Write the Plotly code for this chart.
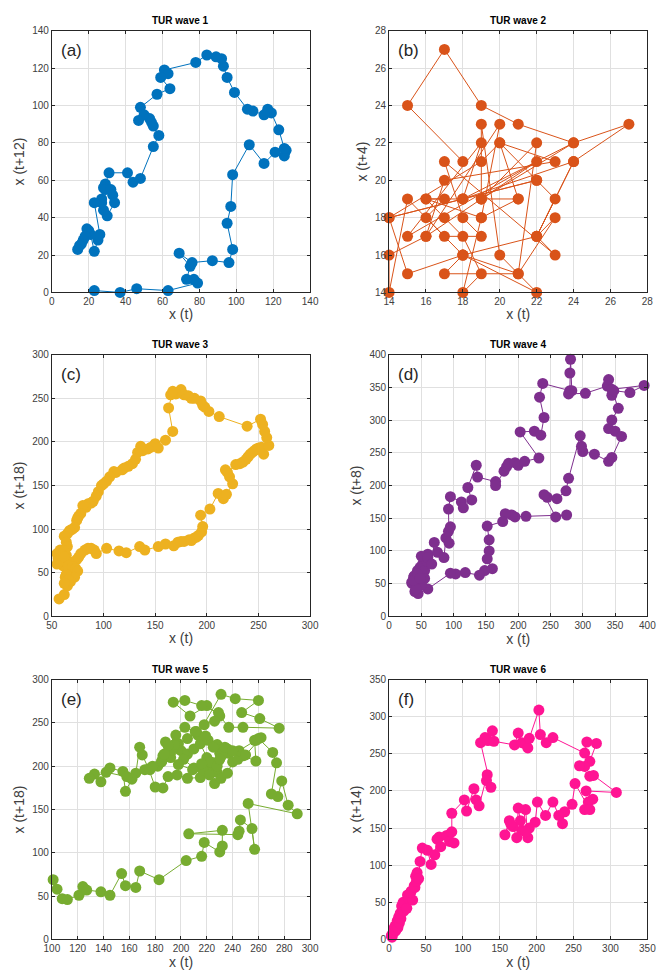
import plotly.graph_objects as go

# ---- wave 1 : x(t) vs x(t+12)
w1_x = [23, 37, 46, 63, 79, 77, 73, 75, 69, 76, 87, 96, 98, 95, 97, 98, 107, 115, 121, 126, 127, 126,
        123, 119, 117, 115, 109, 106, 99, 95, 93, 92, 89, 84, 78, 61, 63, 59, 64, 57, 48, 50, 47, 53,
        54, 55, 58, 55, 48, 44, 41, 31, 29, 28, 29, 32, 33, 34, 30, 28, 27, 27, 23, 26, 25, 23, 21,
        20, 19, 18, 17, 16, 15, 14]
w1_y = [1, 0, 2, 1, 5, 7, 7, 14, 21, 16, 17, 16, 23, 37, 46, 63, 79, 69, 75, 73, 76, 77,
        87, 96, 98, 95, 97, 98, 107, 115, 121, 125, 126, 127, 123, 119, 117, 115, 109, 106, 99, 95, 92, 93,
        91, 89, 84, 78, 61, 59, 64, 64, 58, 56, 55, 55, 52, 48, 41, 44, 48, 50, 48, 31, 28, 22, 31,
        33, 34, 30, 28, 26, 25, 23]

# ---- wave 2 : x(t) vs x(t+4)
w2_x = [18, 15, 17, 19, 21, 24, 27, 24, 22, 23, 21, 18, 15, 14, 22, 20, 23, 17, 16, 19, 22, 15,
        19, 18, 24, 19, 21, 19, 16, 17, 18, 19, 18, 19, 20, 16, 14, 14, 15, 17, 19, 18, 17, 23,
        22, 18, 22, 20, 19, 19, 22, 21, 17, 18, 16, 17, 16, 18, 22, 23, 22, 24, 18, 14, 19, 20, 21]
w2_y = [21, 24, 27, 24, 23, 22, 23, 21, 17, 18, 15, 16, 15, 18, 20, 22, 21, 20, 17, 19, 21, 17,
        22, 19, 22, 19, 19, 18, 19, 18, 17, 15, 14, 18, 23, 17, 16, 14, 19, 17, 17, 18, 21, 16,
        17, 16, 14, 16, 23, 19, 22, 15, 15, 16, 18, 19, 19, 19, 20, 19, 17, 21, 19, 18, 21, 22, 19]

# ---- wave 3 : x(t) vs x(t+18)
w3_x = [57, 62, 65, 63, 66, 64, 61, 58, 56, 55, 58, 60, 64, 68, 72, 70, 74, 76, 78, 82, 85, 88,
        91, 93, 103, 115, 122, 135, 140, 153, 160, 168, 172, 175, 178, 183, 185, 188, 190, 192, 195,
        196, 194, 203, 211, 216, 219, 225, 222, 218, 220, 228, 232, 235, 238, 240, 242, 244, 246, 248,
        250, 253, 255, 260, 258, 256, 254, 252, 239, 212, 202, 198, 196, 194, 188, 185, 182, 178, 175,
        172, 170, 165, 167, 163, 167, 160, 150, 153, 146, 143, 138, 136, 133, 131, 128, 124, 120, 118,
        112, 110, 106, 103, 100, 98, 95, 93, 90, 88, 85, 83, 80, 78, 76, 75, 74, 72, 70, 68, 67, 65,
        62, 64, 65, 62, 60, 57, 55, 58, 62, 66, 70, 73, 75, 72, 68, 64, 66, 62, 60]
w3_y = [20, 25, 35, 45, 52, 48, 58, 63, 67, 72, 76, 72, 70, 60, 55, 62, 65, 68, 72, 76, 78, 78,
        76, 72, 78, 75, 73, 80, 76, 80, 83, 81, 85, 86, 86, 88, 87, 90, 91, 93, 97,
        103, 116, 123, 141, 135, 140, 152, 160, 168, 165, 174, 175, 177, 180, 183, 186, 188, 190, 192,
        193, 194, 186, 196, 205, 212, 220, 226, 218, 229, 235, 240, 242, 247, 250, 250, 253, 254, 260,
        257, 255, 254, 258, 239, 212, 202, 198, 193, 194, 192, 190, 195, 188, 180, 175, 172, 170, 168,
        165, 166, 160, 155, 152, 150, 143, 138, 132, 130, 129, 125, 127, 118, 115, 113, 110, 102, 100,
        99, 98, 95, 92, 85, 80, 75, 70, 64, 60, 65, 68, 58, 57, 55, 52, 45, 40, 48, 42, 38]

# ---- wave 4 : x(t) vs x(t+8)
w4_x = [45, 40, 36, 38, 42, 47, 50, 44, 39, 35, 48, 52, 55, 60, 58, 50, 60, 66, 70, 75, 85, 88,
        92, 95, 93, 92, 95, 112, 115, 128, 122, 135, 137, 165, 165, 178, 182, 185, 195, 200, 210,
        232, 203, 225, 235, 240, 233, 238, 280, 280, 281, 283, 278, 304, 338, 340, 345, 348, 373,
        395, 345, 355, 345, 340, 350, 360, 345, 340, 318, 300, 298, 296, 278, 274, 260, 245, 240,
        258, 275, 212, 195, 190, 180, 176, 152, 155, 155, 152, 160, 148, 140, 118, 103, 95, 60, 55,
        50, 45, 42, 38, 44, 48]
w4_y = [45, 38, 50, 60, 55, 48, 65, 70, 62, 52, 75, 80, 70, 95, 85, 92, 90, 80, 113, 98, 90, 120,
        130, 137, 112, 164, 183, 175, 166, 178, 197, 231, 213, 206, 200, 222, 229, 234, 235, 231, 237,
        242, 282, 283, 277, 304, 335, 356, 345, 372, 393, 345, 340, 341, 352, 362, 338, 345, 342,
        353, 347, 318, 300, 287, 283, 275, 243, 237, 248, 252, 260, 276, 211, 192, 180, 182, 186,
        152, 155, 153, 152, 155, 157, 145, 138, 117, 100, 88, 73, 70, 63, 67, 65, 66, 42, 58,
        48, 35, 42, 55, 65, 58]

# ---- wave 5 : x(t) vs x(t+18)
w5_x = [101, 104, 108, 112, 121, 124, 127, 138, 145, 154, 157, 165, 168, 183, 204, 216, 218, 230,
        232, 232, 206, 244, 245, 246, 255, 257, 252, 290, 283, 278, 275, 270, 274, 271, 260, 257,
        258, 248, 237, 228, 222, 215, 205, 197, 190, 186, 180, 175, 170, 168, 165, 162, 157, 155,
        145, 138, 133, 129, 142, 158, 172, 182, 185, 192, 200, 205, 210, 215, 220, 224, 226, 231,
        236, 240, 233, 228, 221, 213, 231, 242, 260, 247, 261, 276, 248, 237, 230, 220, 207, 194,
        203, 216, 229, 226, 218, 212, 205, 198, 193, 188, 185, 176, 178, 186, 195, 202, 210, 217,
        223, 230, 236, 244, 232, 225, 219, 211, 203, 196, 190, 187, 198, 209, 216, 222, 228, 234,
        245, 258, 262, 250, 240, 230]
w5_y = [69, 58, 47, 46, 51, 61, 57, 55, 51, 76, 62, 60, 79, 69, 91, 96, 112, 101,
        108, 126, 122, 121, 125, 138, 128, 104, 157, 145, 155, 183, 165, 168, 204, 216, 232, 230,
        206, 212, 215, 193, 198, 187, 186, 190, 188, 175, 176, 197, 213, 222, 192, 185, 171, 194,
        198, 182, 191, 186, 193, 188, 196, 200, 205, 210, 218, 214, 220, 226, 210, 204, 180, 186,
        192, 205, 220, 225, 230, 236, 283, 278, 276, 262, 255, 244, 245, 245, 258, 270, 258, 274,
        276, 270, 262, 252, 248, 240, 232, 226, 219, 228, 206, 196, 200, 212, 225, 208, 198, 195,
        205, 215, 220, 208, 215, 222, 235, 240, 245, 236, 224, 214, 202, 196, 203, 190, 200, 222,
        218, 230, 233, 213, 218, 208]

# ---- wave 6 : x(t) vs x(t+14)
w6_x = [3, 5, 4, 7, 6, 9, 8, 10, 12, 11, 14, 13, 16, 15, 18, 17, 20, 22, 19, 24, 25, 27, 30, 32,
        29, 34, 35, 37, 36, 38, 40, 42, 45, 52, 57, 62, 65, 70, 68, 78, 82, 88, 85, 85, 102, 105,
        115, 118, 122, 133, 132, 138, 124, 130, 134, 140, 142, 170, 175, 180, 185, 188, 190, 203,
        205, 213, 222, 265, 268, 281, 272, 265, 258, 272, 277, 308, 267, 276, 270, 265, 272, 252,
        248, 238, 235, 230, 222, 212, 201, 198, 190, 188, 185, 180, 175, 173, 168, 163, 157, 165,
        178, 185]
w6_y = [5, 8, 3, 10, 14, 12, 18, 20, 16, 25, 22, 30, 28, 35, 40, 45, 38, 45, 50, 42, 60, 55, 65, 53,
        63, 72, 70, 78, 85, 90, 82, 105, 123, 120, 101, 114, 135, 125, 138, 140, 132, 130, 145, 170, 188, 173,
        203, 188, 180, 222, 214, 205, 265, 272, 268, 281, 267, 262, 278, 265, 263, 258, 271, 309,
        276, 265, 272, 251, 266, 264, 240, 233, 234, 220, 221, 198, 200, 189, 185, 175, 175, 210,
        182, 172, 156, 167, 185, 167, 185, 158, 150, 137, 175, 147, 177, 137, 152, 160, 141, 155,
        160, 145]

panels = [
    dict(x=w1_x, y=w1_y, color="#0072BD", title="TUR wave 1", tag="(a)", ylab="x (t+12)",
         xr=[0, 140], yr=[0, 140], xt=list(range(0, 141, 20)), yt=list(range(0, 141, 20))),
    dict(x=w2_x, y=w2_y, color="#D95319", title="TUR wave 2", tag="(b)", ylab="x (t+4)",
         xr=[14, 28], yr=[14, 28], xt=list(range(14, 29, 2)), yt=list(range(14, 29, 2))),
    dict(x=w3_x, y=w3_y, color="#EDB120", title="TUR wave 3", tag="(c)", ylab="x (t+18)",
         xr=[50, 300], yr=[0, 300], xt=list(range(50, 301, 50)), yt=list(range(0, 301, 50))),
    dict(x=w4_x, y=w4_y, color="#7E2F8E", title="TUR wave 4", tag="(d)", ylab="x (t+8)",
         xr=[0, 400], yr=[0, 400], xt=list(range(0, 401, 50)), yt=list(range(0, 401, 50))),
    dict(x=w5_x, y=w5_y, color="#77AC30", title="TUR wave 5", tag="(e)", ylab="x (t+18)",
         xr=[100, 300], yr=[0, 300], xt=list(range(100, 301, 20)), yt=list(range(0, 301, 50))),
    dict(x=w6_x, y=w6_y, color="#FF1493", title="TUR wave 6", tag="(f)", ylab="x (t+14)",
         xr=[0, 350], yr=[0, 350], xt=list(range(0, 351, 50)), yt=list(range(0, 351, 50))),
]

W, H = 670, 979
col_px = [(45, 310), (391, 656)]
row_px = [(25, 290), (353, 618), (682, 945)]

FONT = "Liberation Sans Narrow, Liberation Sans, Arial, sans-serif"
AXC = "#262626"

fig = go.Figure()
annotations = []
for i, p in enumerate(panels):
    r, c = divmod(i, 2)
    x0, x1 = col_px[c]
    t0, t1 = row_px[r]
    xd = [x0 / W, x1 / W]
    yd = [1 - t1 / H, 1 - t0 / H]
    sfx = "" if i == 0 else str(i + 1)
    xa, ya = "x" + sfx, "y" + sfx
    fig.add_trace(go.Scatter(
        x=p["x"], y=p["y"], mode="lines+markers", xaxis=xa, yaxis=ya,
        line=dict(color=p["color"], width=1),
        marker=dict(color=p["color"], size=11, line=dict(width=0)),
        showlegend=False, cliponaxis=False))
    common = dict(showgrid=True, gridcolor="#E0E0E0", gridwidth=1, zeroline=False,
                  showline=True, linecolor=AXC, linewidth=1, mirror="ticks",
                  ticks="inside", ticklen=3, tickcolor=AXC,
                  tickfont=dict(family=FONT, size=10, color="#404040"))
    fig.layout["xaxis" + sfx] = dict(domain=xd, range=p["xr"], tickvals=p["xt"],
                                     anchor=ya, **common,
                                     title=dict(text="x (t)", standoff=2,
                                                font=dict(family="Liberation Sans", size=14, color="#404040")))
    fig.layout["yaxis" + sfx] = dict(domain=yd, range=p["yr"], tickvals=p["yt"],
                                     anchor=xa, **common,
                                     title=dict(text=p["ylab"], standoff=4,
                                                font=dict(family="Liberation Sans", size=14, color="#404040")))
    annotations.append(dict(text="<b>" + p["title"] + "</b>", xref="paper", yref="paper",
                            x=(xd[0] + xd[1]) / 2, y=yd[1], yanchor="bottom", xanchor="center",
                            yshift=3, showarrow=False,
                            font=dict(family="Liberation Sans", size=10, color="black")))
    annotations.append(dict(text=p["tag"], xref="paper", yref="paper",
                            x=xd[0], y=yd[1], xanchor="left", yanchor="top",
                            xshift=7, yshift=-8, showarrow=False,
                            font=dict(family="Liberation Sans Narrow, Liberation Sans", size=17, color=AXC)))

fig.update_layout(width=W, height=H, margin=dict(l=0, r=0, t=0, b=0),
                  paper_bgcolor="white", plot_bgcolor="white",
                  annotations=annotations)
fig.write_html("out.html")
